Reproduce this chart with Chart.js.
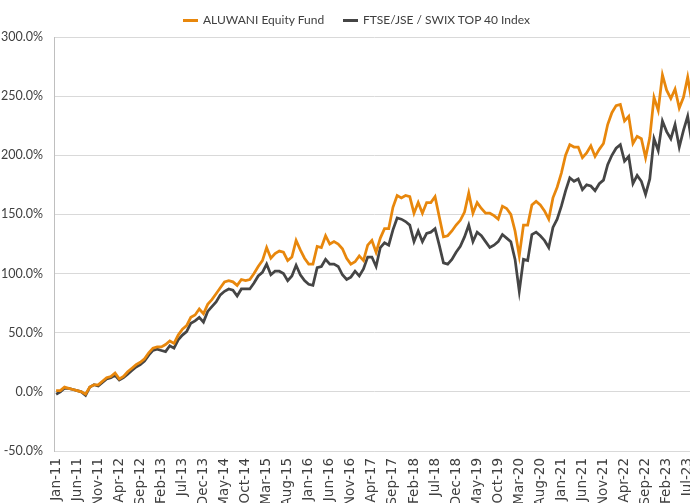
<!DOCTYPE html>
<html><head><meta charset="utf-8">
<script src="https://cdn.jsdelivr.net/npm/chart.js@4/dist/chart.umd.min.js"></script>
<style>
html,body{margin:0;padding:0;background:#fff;overflow:hidden;width:690px;height:503px}
#wrap{position:absolute;left:0;top:0;width:694px;height:530px}
.item{position:absolute;top:13px;font:12px Lato, "DejaVu Sans", sans-serif;color:#404040;display:flex;align-items:center;white-space:nowrap;line-height:14px}
.sw{display:inline-block;width:15px;height:3px;margin-right:5px}
</style></head>
<body>
<div id="wrap"><canvas id="c" width="694" height="530"></canvas></div>
<div id="legend"></div>
<script>
const MONTHS = ['Jan','Feb','Mar','Apr','May','Jun','Jul','Aug','Sep','Oct','Nov','Dec'];
const START_YEAR = 2011;
const SERIES_NAMES = ['ALUWANI Equity Fund', 'FTSE/JSE / SWIX TOP 40 Index'];
const Y_TICKS = [-50, 0, 50, 100, 150, 200, 250, 300];

const aluwani = [
  1,1,4,3,2,1,0,-2,4,6,6,9,
  12,13,16,11,13,17,20,23,25,28,33,37,
  38,38,40,43,41,48,53,56,63,65,70,66,
  74,78,83,88,93,94,93,90,95,94,95,100,
  106,111,122,113,117,119,118,111,114,128,120,113,
  108,108,123,122,132,125,127,125,121,113,108,110,
  115,111,124,128,118,130,138,138,156,166,164,166,
  165,151,160,151,160,160,165,148,131,132,136,141,
  145,152,168,151,160,155,151,151,149,146,157,155,
  150,136,115,141,141,158,161,158,153,146,164,173,
  185,200,209,207,207,198,202,208,199,205,210,226,
  236,242,243,229,233,210,216,214,198,215,249,238,
  268,255,248,256,240,249,266,245
];
const top40 = [
  -2,0,3,3,2,1,0,-3,4,6,5,8,
  11,12,14,10,12,15,18,21,23,26,31,35,
  36,35,34,39,37,44,48,51,58,60,63,59,
  68,72,76,82,85,87,86,81,87,87,87,92,
  98,101,108,99,102,102,100,94,98,107,99,94,
  91,90,105,106,112,108,108,106,99,95,97,102,
  98,104,114,114,106,122,126,124,137,147,146,144,
  141,127,136,127,134,135,138,124,109,108,112,118,
  123,131,141,127,135,132,127,122,124,127,133,130,
  127,112,85,112,111,133,135,132,128,122,139,146,
  157,170,181,178,180,171,175,174,170,176,179,192,
  200,206,209,195,199,176,183,178,167,180,214,204,
  229,220,214,226,207,221,233,210
];

const categories = aluwani.map((_, i) => MONTHS[i % 12] + '-' + String((START_YEAR + Math.floor(i / 12)) % 100).padStart(2, '0'));
const COLORS = ['#E8870C', '#454545'];
const LEGEND_X = [183, 343];

const leg = document.getElementById('legend');
SERIES_NAMES.forEach((n, k) => {
  const it = document.createElement('div'); it.className = 'item'; it.style.left = LEGEND_X[k] + 'px';
  const sw = document.createElement('span'); sw.className = 'sw'; sw.style.background = COLORS[k];
  it.appendChild(sw); it.appendChild(document.createTextNode(n)); leg.appendChild(it);
});

new Chart(document.getElementById('c'), {
  type: 'line',
  data: {
    labels: categories,
    datasets: [
      {label: SERIES_NAMES[0], data: aluwani, borderColor: COLORS[0], backgroundColor: COLORS[0], borderWidth: 2.75, pointRadius: 0, tension: 0},
      {label: SERIES_NAMES[1], data: top40, borderColor: COLORS[1], backgroundColor: COLORS[1], borderWidth: 2.75, pointRadius: 0, tension: 0}
    ]
  },
  options: {
    responsive: false, animation: false,
    layout: {padding: {top: 37, left: 0, right: 0, bottom: 0}},
    plugins: {legend: {display: false}, tooltip: {enabled: false}},
    scales: {
      x: {
        offset: true,
        grid: {display: false, drawTicks: false},
        border: {display: true, color: '#d9d9d9', width: 1},
        ticks: {autoSkip: false, minRotation: 90, maxRotation: 90, padding: 7, color: '#404040',
          font: {family: '"DejaVu Sans", sans-serif', size: 13.5},
          callback: function(v, i) { return i % 5 === 0 ? categories[i] : ''; }},
        afterFit: s => { s.height = 79; s.paddingLeft = 0; s.paddingRight = 0; }
      },
      y: {
        min: Y_TICKS[0], max: Y_TICKS[Y_TICKS.length - 1],
        afterBuildTicks: s => { s.ticks = Y_TICKS.map(v => ({value: v})); },
        grid: {color: '#d9d9d9', lineWidth: 1, drawTicks: false},
        border: {display: true, color: '#bfbfbf', width: 1},
        ticks: {padding: 11, color: '#404040', font: {family: 'Lato, sans-serif', size: 12.5}, callback: v => v.toFixed(1) + '%'},
        afterFit: s => { s.width = 54; }
      }
    }
  }
});
</script>
</body></html>
